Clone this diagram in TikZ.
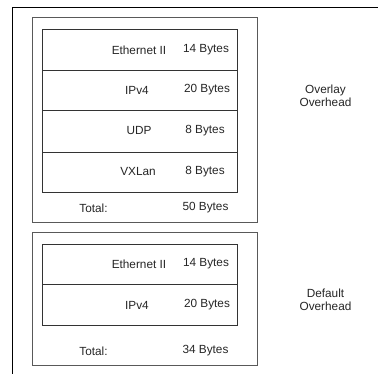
\documentclass[tikz,border=0pt]{standalone}
\usepackage{fontspec}
\setmainfont{Liberation Sans}
\begin{document}
\begin{tikzpicture}[x=1pt,y=-1pt,
  frameline/.style={draw=black,line width=1pt},
  groupbox/.style={draw=black!65,line width=1pt},
  rowbox/.style={draw=black!80,line width=1pt},
  lbl/.style={font=\fontsize{11.8}{13.2}\selectfont,text=black!85,inner sep=0pt,anchor=center},
  sidelbl/.style={lbl,align=center}]
  \useasboundingbox (0,0) rectangle (378,374);
  \fill[white] (0,0) rectangle (378,374);
  \begin{scope}
    \clip (0,0) rectangle (378,374);
    % outer frame, running past the page edges
    \draw[frameline] (12,8) rectangle (420,420);
  \end{scope}

  % overlay encapsulation group
  \draw[groupbox] (32,18) rectangle (257,223);
  \node[rowbox,minimum width=195pt,minimum height=41pt,inner sep=0pt,anchor=north west] (eth1) at (42,29) {};
  \node[rowbox,minimum width=195pt,minimum height=40pt,inner sep=0pt,anchor=north west] (ip1) at (42,70) {};
  \node[rowbox,minimum width=195pt,minimum height=42pt,inner sep=0pt,anchor=north west] (udp) at (42,110) {};
  \node[rowbox,minimum width=195pt,minimum height=40pt,inner sep=0pt,anchor=north west] (vxl) at (42,152) {};

  \node[lbl] (eth1n) at (139,50) {Ethernet II};
  \node[lbl] (eth1b) at (206,50) {14 Bytes};
  \node[lbl] (ip1n) at (137,90) {IPv4};
  \node[lbl] (ip1b) at (207,90) {20 Bytes};
  \node[lbl] (udpn) at (139,131) {UDP};
  \node[lbl] (udpb) at (205,131) {8 Bytes};
  \node[lbl] (vxln) at (138,172) {VXLan};
  \node[lbl] (vxlb) at (205,172) {8 Bytes};
  \node[lbl] (tot1) at (93.5,208) {Total:};
  \node[lbl] (tot1b) at (205.5,208) {50 Bytes};
  \node[sidelbl] (ovl) at (325.5,96) {Overlay\\Overhead};

  % default encapsulation group
  \draw[groupbox] (32,233) rectangle (257,366);
  \node[rowbox,minimum width=195pt,minimum height=40pt,inner sep=0pt,anchor=north west] (eth2) at (42,244) {};
  \node[rowbox,minimum width=195pt,minimum height=41pt,inner sep=0pt,anchor=north west] (ip2) at (42,284) {};

  \node[lbl] (eth2n) at (139,264) {Ethernet II};
  \node[lbl] (eth2b) at (206,264) {14 Bytes};
  \node[lbl] (ip2n) at (137,305) {IPv4};
  \node[lbl] (ip2b) at (207,305) {20 Bytes};
  \node[lbl] (tot2) at (93.5,351) {Total:};
  \node[lbl] (tot2b) at (205.5,351) {34 Bytes};
  \node[sidelbl] (dfl) at (325.5,300) {Default\\Overhead};
\end{tikzpicture}
\end{document}
